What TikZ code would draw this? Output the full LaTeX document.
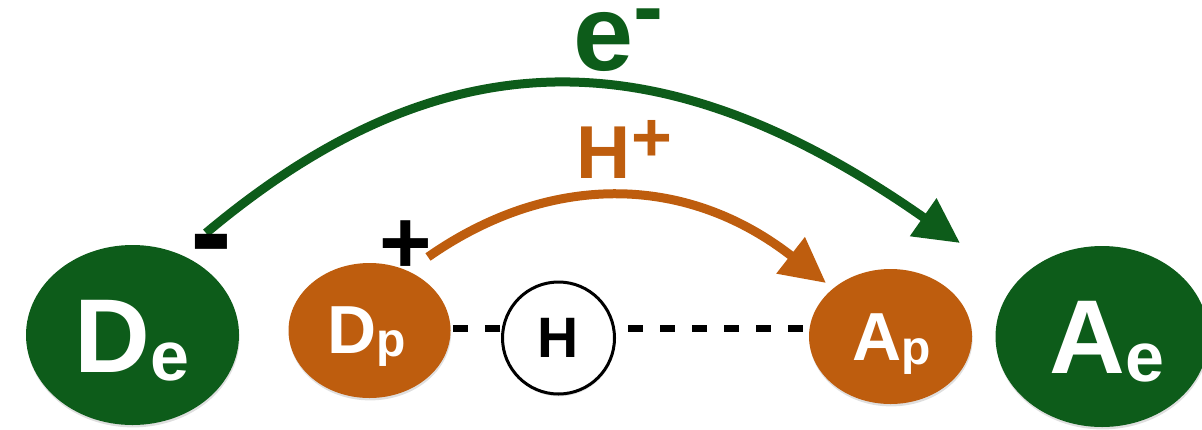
\documentclass[tikz,border=0pt]{standalone}
\usepackage{fontspec}
\setmainfont{Liberation Sans}
\usetikzlibrary{arrows.meta,shapes.geometric,shadows}
\definecolor{dgreen}{RGB}{13,92,26}
\definecolor{dorange}{RGB}{190,93,14}
\begin{document}
\begin{tikzpicture}[x=0.5pt,y=-0.5pt,
  blob/.style={ellipse, inner sep=0pt, draw=none, drop shadow={shadow xshift=0.3pt, shadow yshift=-1.2pt, opacity=0.25}},
  egreen/.style={blob, fill=dgreen, minimum width=106.5pt, minimum height=90pt},
  porange/.style={blob, fill=dorange, minimum width=81pt, minimum height=67.5pt},
  lab/.style={inner sep=0pt, anchor=base, text=white},
  arr/.style={line width=4.5pt, -{Triangle[length=22.5pt,width=22pt]}},
  dl/.style={line width=3.5pt, dash pattern=on 7.5pt off 8.5pt},
  sign/.style={inner sep=0pt, anchor=base west}
]
\useasboundingbox (0,0) rectangle (1202,429);
% main nodes
\node[egreen] (De) at (132.5,335) {};
\node[porange] (Dp) at (369.5,330.5) {};
\node[porange, minimum width=81.5pt] (Ap) at (890.5,336.5) {};
\node[egreen, minimum height=90.5pt] (Ae) at (1102,336.5) {};
\node[circle, draw, line width=1.5pt, fill=white, minimum size=56pt, inner sep=0pt,
      font=\bfseries\fontsize{28.5}{30}\selectfont,
      drop shadow={shadow xshift=0.3pt, shadow yshift=-1.2pt, opacity=0.2}] (H) at (558.5,338) {H};
% dashed hydrogen-bond line
\coordinate (dy) at (0,328);
\draw[dl, dash phase=15pt] (Dp.east |- dy) -- (H.west |- dy);
\draw[dl, dash phase=10pt] (H.east |- dy) -- (Ap.west |- dy);
% labels inside blobs
\node[lab, font=\bfseries\fontsize{52.5}{55}\selectfont] (DeL) at (132,372) {D\raisebox{-4pt}{\fontsize{35}{36}\selectfont e}};
\node[lab, font=\bfseries\fontsize{52.5}{55}\selectfont] (AeL) at (1107,373) {A\raisebox{-4pt}{\fontsize{35}{36}\selectfont e}};
\node[lab, font=\bfseries\fontsize{34}{36}\selectfont] (DpL) at (367,353) {D\raisebox{-1.5pt}{\fontsize{24}{25}\selectfont p}};
\node[lab, font=\bfseries\fontsize{34}{36}\selectfont] (ApL) at (892,360) {A\raisebox{-2pt}{\fontsize{24}{25}\selectfont p}};
% transfer arrows
\coordinate (gs) at (206,233);
\coordinate (ge) at (960,243);
\draw[arr, dgreen] (gs) .. controls (449,29) and (669,39) .. (ge);
\coordinate (os) at (428,257);
\coordinate (oe) at (826,283);
\draw[arr, dorange] (os) .. controls (546.6,173.9) and (683.4,171.5) .. (oe);
% arrow labels
\node[sign, text=dgreen, font=\bfseries\fontsize{54}{56}\selectfont] (eL) at (573,70) {e\raisebox{16.5pt}{\fontsize{45}{46}\selectfont -}};
\node[sign, text=dorange, font=\bfseries\fontsize{37.5}{40}\selectfont] (HL) at (576.5,178) {H\raisebox{8.5pt}{\fontsize{35}{36}\selectfont +}};
% charge signs
\node[sign, font=\bfseries\fontsize{63}{64}\selectfont] (mi) at (190,274) {-};
\node[sign, font=\bfseries\fontsize{45}{46}\selectfont] (pl) at (379.5,273.5) {+};
\end{tikzpicture}
\end{document}
